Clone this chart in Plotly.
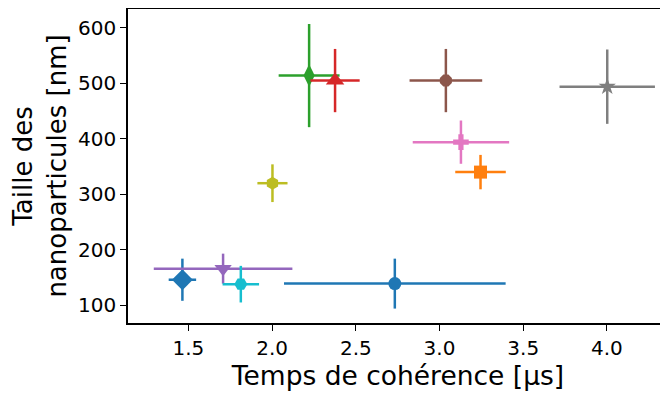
import plotly.graph_objects as go

# Data
coherence_time = [1.464, 3.245, 2.221, 2.376, 1.707, 3.038, 3.128, 4.002, 2.002, 1.813, 2.733]
particle_size = [146, 340, 514, 505, 166, 505, 394, 494, 320, 138, 139]
coherence_err = [0.082, 0.151, 0.182, 0.147, 0.414, 0.217, 0.288, 0.285, 0.090, 0.109, 0.662]
size_err = [38, 31, 93, 57, 27, 57, 39, 67, 34, 33, 45]

colors = ["#1f77b4", "#ff7f0e", "#2ca02c", "#d62728", "#9467bd", "#8c564b",
          "#e377c2", "#7f7f7f", "#bcbd22", "#17becf", "#1f77b4"]
symbols = ["diamond", "square", "diamond-tall", "triangle-up", "triangle-down", "octagon",
           "cross", "star", "hexagon", "hexagon2", "circle"]
sizes = [16, 13, 16, 16, 15, 13, 13, 13, 13, 13, 13]

x_ticks = [1.5, 2.0, 2.5, 3.0, 3.5, 4.0]
y_ticks = [100, 200, 300, 400, 500, 600]

fig = go.Figure()
for i in range(len(coherence_time)):
    fig.add_trace(go.Scatter(
        x=[coherence_time[i]], y=[particle_size[i]],
        mode="markers",
        marker=dict(color=colors[i], symbol=symbols[i], size=sizes[i], line=dict(width=0)),
        error_x=dict(type="data", array=[coherence_err[i]], color=colors[i], thickness=2.5, width=0),
        error_y=dict(type="data", array=[size_err[i]], color=colors[i], thickness=2.5, width=0),
        showlegend=False,
    ))

# The page body has an 8px default margin, so the figure is sized to fill the
# remaining 668x393 window exactly.
font_family = "DejaVu Sans"
fig.update_layout(
    width=660, height=385,
    margin=dict(l=120, r=0, t=1, b=70),
    paper_bgcolor="white", plot_bgcolor="white",
    font=dict(family=font_family, color="black", size=20),
)
fig.update_xaxes(
    range=[1.139, 4.365], tickvals=x_ticks, ticktext=[f"{v:.1f}" for v in x_ticks],
    showgrid=False, zeroline=False, automargin=False,
    showline=True, linecolor="black", linewidth=1.5, mirror=True,
    ticks="outside", ticklen=6, tickwidth=1.2, tickcolor="black",
    tickfont=dict(size=20),
    title=dict(text="Temps de cohérence [µs]", font=dict(size=26.5), standoff=8),
)
fig.update_yaxes(
    range=[68, 634], tickvals=y_ticks, ticktext=[str(v) for v in y_ticks],
    showgrid=False, zeroline=False, automargin=False,
    showline=True, linecolor="black", linewidth=1.5, mirror=False,
    ticks="outside", ticklen=6, tickwidth=1.2, tickcolor="black",
    tickfont=dict(size=20),
    title=dict(text="Taille des<br>nanoparticules [nm]", font=dict(size=26), standoff=10),
)

fig.write_html("out.html")
